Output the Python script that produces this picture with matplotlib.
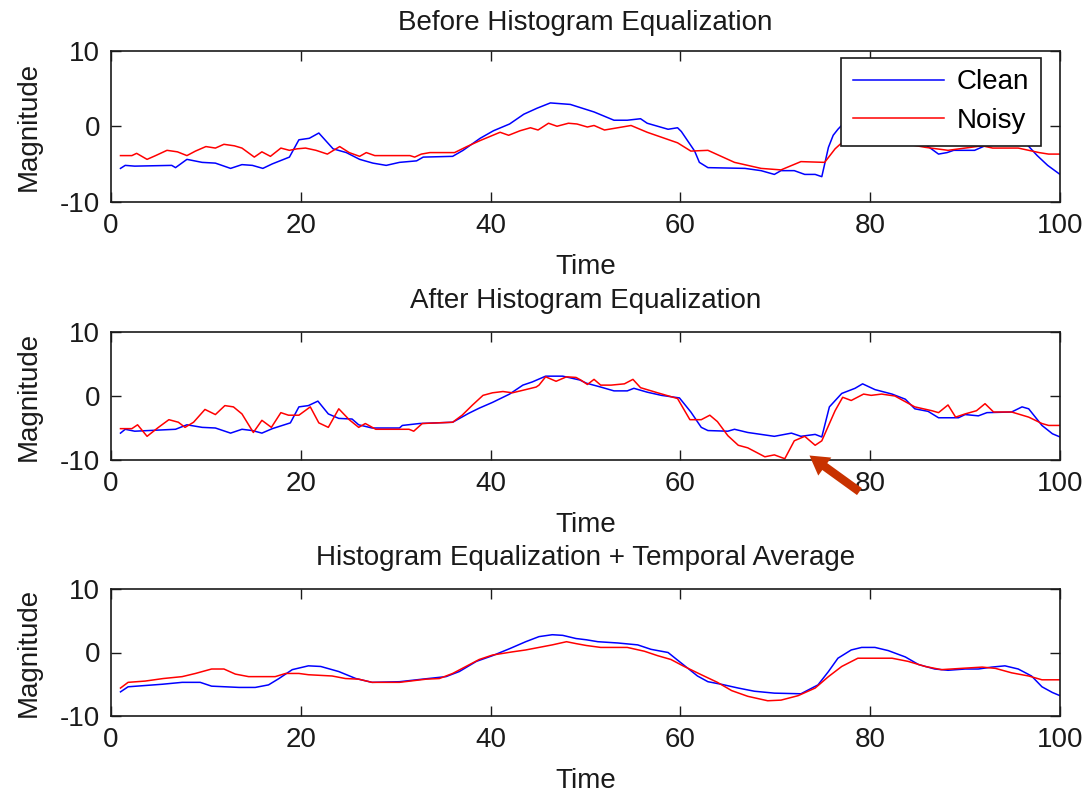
import matplotlib
matplotlib.use("Agg")
import matplotlib.pyplot as plt

plt.rcParams['font.family'] = ['Liberation Sans', 'DejaVu Sans']
plt.rcParams['axes.unicode_minus'] = False

# ---------------- data ----------------
titles = ["Before Histogram Equalization",
          "After Histogram Equalization",
          "Histogram Equalization + Temporal Average"]
series_names = ["Clean", "Noisy"]
x_ticks = [0, 20, 40, 60, 80, 100]
y_ticks = [-10, 0, 10]

# Panel 1: before histogram equalization
p1_clean_x = [1, 1.5, 2.5, 6.4, 6.8, 8, 9.6, 11, 12.6, 13.8, 14.9, 16, 17, 18.8, 19.8, 20.9, 21.9,
              23.4, 24.8, 26.2, 27.6, 29, 30.4, 32.2, 32.9, 36, 37.1, 38.9, 40.3, 42, 43.5, 44.9,
              46.3, 48.4, 50.9, 53, 54.4, 55.8, 56.5, 58.7, 59.7, 60.1, 61.5, 62, 62.9, 66.8, 68.5,
              69.9, 70.6, 72, 73.1, 74.2, 74.9, 75.6, 76.1, 76.6, 77.5, 79, 80.5, 82.3, 83.7, 84.7,
              86, 87.2, 88.1, 88.8, 91, 92.1, 94.4, 96.5, 97.6, 98.7, 100]
p1_clean_y = [-5.6, -5.2, -5.3, -5.2, -5.5, -4.4, -4.8, -4.9, -5.6, -5.1, -5.2, -5.6, -5.0, -4.1, -1.8,
              -1.6, -0.9, -3.0, -3.5, -4.4, -4.9, -5.2, -4.8, -4.6, -4.1, -4.0, -3.2, -1.6, -0.6, 0.3,
              1.6, 2.4, 3.1, 2.9, 1.9, 0.8, 0.8, 1.0, 0.4, -0.4, -0.2, -0.7, -3.3, -4.8, -5.5, -5.6,
              -5.9, -6.4, -5.9, -5.9, -6.4, -6.4, -6.7, -2.8, -1.2, -0.4, 0.8, 1.8, 1.0, 0.3, -0.8,
              -2.2, -2.6, -3.7, -3.5, -3.2, -3.2, -2.6, -2.4, -2.4, -3.9, -5.2, -6.4]
p1_noisy_x = [1, 2.2, 2.7, 3.8, 4.7, 5.9, 7, 8, 8.9, 10, 11, 11.9, 13, 13.8, 15.1, 15.9, 16.8, 17.9,
              18.8, 19.6, 20.5, 21.6, 22.8, 24.1, 25.1, 26.2, 26.9, 27.8, 31.5, 32, 32.7, 33.6, 36.2,
              37.5, 38.9, 41, 41.9, 43.1, 44.2, 45, 46.1, 47, 48.2, 49.1, 50.2, 50.9, 52, 54.8, 56.5,
              59.7, 61.1, 62.9, 65.7, 68.5, 70.6, 72.7, 75.2, 76.3, 77, 78.5, 80, 82, 84, 85.8, 88.2,
              90, 91.8, 92.9, 95.6, 97.8, 98.8, 100]
p1_noisy_y = [-3.9, -3.9, -3.6, -4.4, -3.9, -3.2, -3.4, -3.9, -3.3, -2.7, -2.9, -2.4, -2.6, -2.9, -4.1,
              -3.4, -4.0, -2.9, -3.2, -3.0, -2.9, -3.2, -3.7, -2.7, -3.5, -4.0, -3.5, -3.9, -3.9, -4.1,
              -3.7, -3.5, -3.5, -2.7, -1.9, -0.8, -1.2, -0.6, -0.2, -0.5, 0.4, 0.0, 0.4, 0.3, -0.1,
              0.1, -0.5, 0.1, -0.8, -2.2, -3.3, -3.2, -4.8, -5.6, -5.8, -4.7, -4.8, -3.0, -2.2, -1.5,
              -1.8, -2.0, -2.4, -2.8, -3.2, -2.9, -2.6, -2.9, -2.9, -3.5, -3.7, -3.7]

# Panel 2: after histogram equalization
p2_clean_x = [1, 1.5, 2.5, 6.8, 8, 9.6, 11, 12.6, 13.8, 14.9, 15.9, 17, 18.9, 19.8, 20.8, 21.8, 22.9,
              24, 25.4, 26.1, 27.5, 30.4, 30.7, 32.5, 36, 37.7, 38.8, 40.2, 42, 43.4, 44.4, 45.8,
              47.6, 49.4, 50.1, 51.6, 53, 54.4, 55.1, 56.5, 58, 59.9, 61.1, 62.2, 62.9, 65, 65.7,
              67.1, 69.9, 71.7, 72.7, 74.2, 74.9, 75.7, 77, 78.4, 79.2, 80.5, 82.3, 83.7, 84.7, 86.1,
              87.2, 89.3, 90, 91.4, 92.3, 94.9, 96, 96.7, 98.1, 99.2, 100]
p2_clean_y = [-5.8, -5.2, -5.5, -5.2, -4.5, -4.9, -5.0, -5.8, -5.2, -5.4, -5.8, -5.1, -4.2, -1.7, -1.5,
              -0.8, -2.8, -3.5, -3.6, -4.5, -5.0, -5.0, -4.6, -4.3, -4.1, -2.7, -1.9, -1.0, 0.3, 1.7,
              2.2, 3.1, 3.1, 2.5, 2.0, 1.4, 0.8, 0.8, 1.2, 0.6, 0.1, -0.3, -2.5, -4.9, -5.4, -5.5,
              -5.2, -5.7, -6.3, -5.8, -6.3, -6.0, -6.4, -1.7, 0.4, 1.2, 1.9, 1.0, 0.3, -0.5, -2.0,
              -2.4, -3.4, -3.4, -2.9, -3.1, -2.6, -2.5, -1.7, -2.0, -4.6, -5.9, -6.4]
p2_noisy_x = [1, 2.2, 2.8, 3.8, 5, 6.1, 7.1, 7.8, 8.7, 9.9, 11, 12, 12.9, 13.8, 15, 15.9, 16.9, 17.9,
              18.7, 19.8, 21, 21.9, 22.9, 24, 25.1, 26.1, 26.8, 27.9, 31.4, 31.9, 32.8, 36, 37, 38.1,
              39.2, 40.2, 41.3, 42.3, 43.7, 44.8, 45.1, 45.8, 46.9, 48, 49, 49.5, 50.2, 50.9, 51.6,
              52.7, 54.1, 55, 55.8, 57.6, 59.7, 61, 62.2, 63.1, 63.9, 65, 66.1, 67.1, 68.9, 69.9, 71,
              72, 73.1, 74.2, 74.9, 76.3, 77.1, 78, 79.3, 80.1, 81.2, 82.6, 84.7, 86.5, 87.2, 88.2,
              89, 90, 91.2, 92.1, 93, 94.9, 96.7, 98.1, 98.8, 100]
p2_noisy_y = [-5.1, -5.1, -4.5, -6.3, -4.9, -3.7, -4.1, -4.9, -4.1, -2.1, -2.9, -1.5, -1.7, -2.8, -5.7,
              -3.8, -4.9, -2.6, -3.0, -3.0, -1.7, -4.2, -4.9, -2.0, -3.7, -4.9, -4.3, -5.2, -5.2, -5.5,
              -4.3, -4.1, -3.0, -1.4, 0.1, 0.5, 0.7, 0.5, 1.0, 1.4, 1.7, 3.0, 2.3, 3.0, 2.9, 2.5, 1.8,
              2.6, 1.7, 1.7, 1.9, 2.6, 1.3, 0.5, -0.4, -3.7, -3.7, -3.0, -4.0, -6.2, -7.7, -8.1, -9.5,
              -9.2, -9.8, -7.0, -6.3, -7.7, -7.0, -2.3, -0.2, -0.7, 0.3, 0.1, 0.3, 0.0, -1.7, -2.3,
              -2.6, -1.4, -3.3, -2.8, -2.3, -1.2, -2.5, -2.5, -3.3, -4.3, -4.6, -4.6]

# Panel 3: histogram equalization + temporal average
p3_clean_x = [1, 1.8, 5.4, 7.5, 9.4, 10.6, 13.5, 15.2, 16.6, 17.7, 19.1, 20.8, 22.1, 24, 25.8, 27.5,
              30.4, 32.8, 35.3, 36.7, 38.5, 40.2, 42, 43.7, 45.1, 46.5, 47.6, 49, 50.1, 51.3, 53.4,
              55.5, 56.9, 58.7, 59.7, 60.8, 61.8, 62.9, 64.3, 66.1, 67.8, 69.9, 72.7, 74.5, 75.6,
              76.6, 78, 79.1, 80.5, 81.9, 83.7, 85.1, 86.8, 88.2, 90, 91.4, 92.8, 94.2, 95.6, 97,
              98.1, 99.2, 100]
p3_clean_y = [-6.2, -5.4, -5.0, -4.7, -4.7, -5.3, -5.5, -5.5, -5.1, -4.1, -2.7, -2.1, -2.2, -3.0, -4.1,
              -4.7, -4.6, -4.2, -3.8, -3.0, -1.4, -0.5, 0.6, 1.7, 2.5, 2.8, 2.7, 2.2, 2.0, 1.7, 1.5,
              1.2, 0.5, 0.0, -1.2, -2.5, -3.7, -4.6, -5.0, -5.6, -6.1, -6.4, -6.5, -5.1, -3.0, -0.9,
              0.4, 0.8, 0.8, 0.3, -0.7, -1.9, -2.6, -2.8, -2.6, -2.6, -2.3, -2.1, -2.6, -3.7, -5.4,
              -6.3, -6.8]
p3_noisy_x = [1, 1.8, 3.6, 5.5, 7.5, 8.9, 10.6, 11.9, 13.1, 14.5, 17.3, 18.4, 19.8, 20.8, 23.3, 24.7,
              26.1, 27.5, 30.4, 33.2, 34.6, 36, 37.4, 38.8, 40.2, 42.3, 43.7, 45.1, 46.5, 48, 49, 50.1,
              51.6, 54.4, 56.2, 57.6, 59, 60.4, 62.2, 63.9, 65.4, 67.1, 69.2, 70.6, 72.4, 74.2, 75.6,
              77, 78.7, 82.3, 84, 85.8, 87.5, 89.6, 91.8, 93.2, 94.9, 96.7, 98.1, 100]
p3_noisy_y = [-5.6, -4.7, -4.5, -4.1, -3.8, -3.3, -2.6, -2.6, -3.4, -3.8, -3.8, -3.3, -3.3, -3.5, -3.7,
              -4.1, -4.2, -4.7, -4.7, -4.2, -4.1, -3.3, -2.2, -1.1, -0.4, 0.1, 0.4, 0.8, 1.2, 1.7, 1.4,
              1.1, 0.8, 0.8, 0.2, -0.5, -1.1, -2.2, -3.5, -4.7, -6.0, -6.9, -7.6, -7.5, -6.8, -5.6,
              -3.8, -2.2, -0.9, -0.9, -1.4, -2.2, -2.7, -2.5, -2.3, -2.5, -3.2, -3.7, -4.3, -4.3]

panels = [
    (p1_clean_x, p1_clean_y, p1_noisy_x, p1_noisy_y),
    (p2_clean_x, p2_clean_y, p2_noisy_x, p2_noisy_y),
    (p3_clean_x, p3_clean_y, p3_noisy_x, p3_noisy_y),
]

# ---------------- layout ----------------
W, H = 1088, 795
fig = plt.figure(figsize=(W / 100, H / 100), dpi=100)
fig.patch.set_facecolor('white')

# axes boxes in pixels: (left, top, right, bottom)
boxes = [(111, 51, 1060, 201.5), (111, 332, 1060, 460), (111, 589, 1060, 716)]
FS = 20
TXT = '#1a1a1a'

axes = []
for i, ((l, t, r, b), (cx, cy, nx, ny)) in enumerate(zip(boxes, panels)):
    ax = fig.add_axes([l / W, 1 - b / H, (r - l) / W, (b - t) / H])
    ax.plot(cx, cy, color='#0000FF', lw=1.1, label=series_names[0])
    ax.plot(nx, ny, color='#FF0000', lw=1.1, label=series_names[1])
    ax.set_xlim(0, 100)
    ax.set_ylim(-10, 10)
    ax.set_xticks(x_ticks)
    ax.set_yticks(y_ticks)
    ax.tick_params(direction='in', length=7, width=1, top=True, right=True,
                   labelsize=FS, colors=TXT, pad=8)
    for s in ax.spines.values():
        s.set_linewidth(1.2)
        s.set_color(TXT)
    ax.set_title(titles[i], fontsize=FS, pad=15 if i == 0 else 17, color=TXT)
    ax.set_xlabel("Time", fontsize=FS, labelpad=11, color=TXT)
    ax.set_ylabel("Magnitude", fontsize=FS, labelpad=13, color=TXT)
    axes.append(ax)

leg = axes[0].legend(loc='upper right', bbox_to_anchor=(0.98, 0.955), fontsize=FS,
                     frameon=True, fancybox=False, edgecolor=TXT, framealpha=1,
                     handlelength=3.3, handletextpad=0.45, borderpad=0.42, labelspacing=0.45,
                     borderaxespad=0)
leg.get_frame().set_linewidth(1.2)

# arrow pointing at the noisy dip in panel 2
axes[1].annotate("", xy=(73.6, -9.3), xytext=(36, -26), textcoords='offset points',
                 annotation_clip=False,
                 arrowprops=dict(arrowstyle='simple,head_width=1.0,head_length=0.85,tail_width=0.38',
                                 mutation_scale=16, color='#C83200', lw=0, shrinkA=0, shrinkB=0))

fig.savefig("out.png", dpi=100)
